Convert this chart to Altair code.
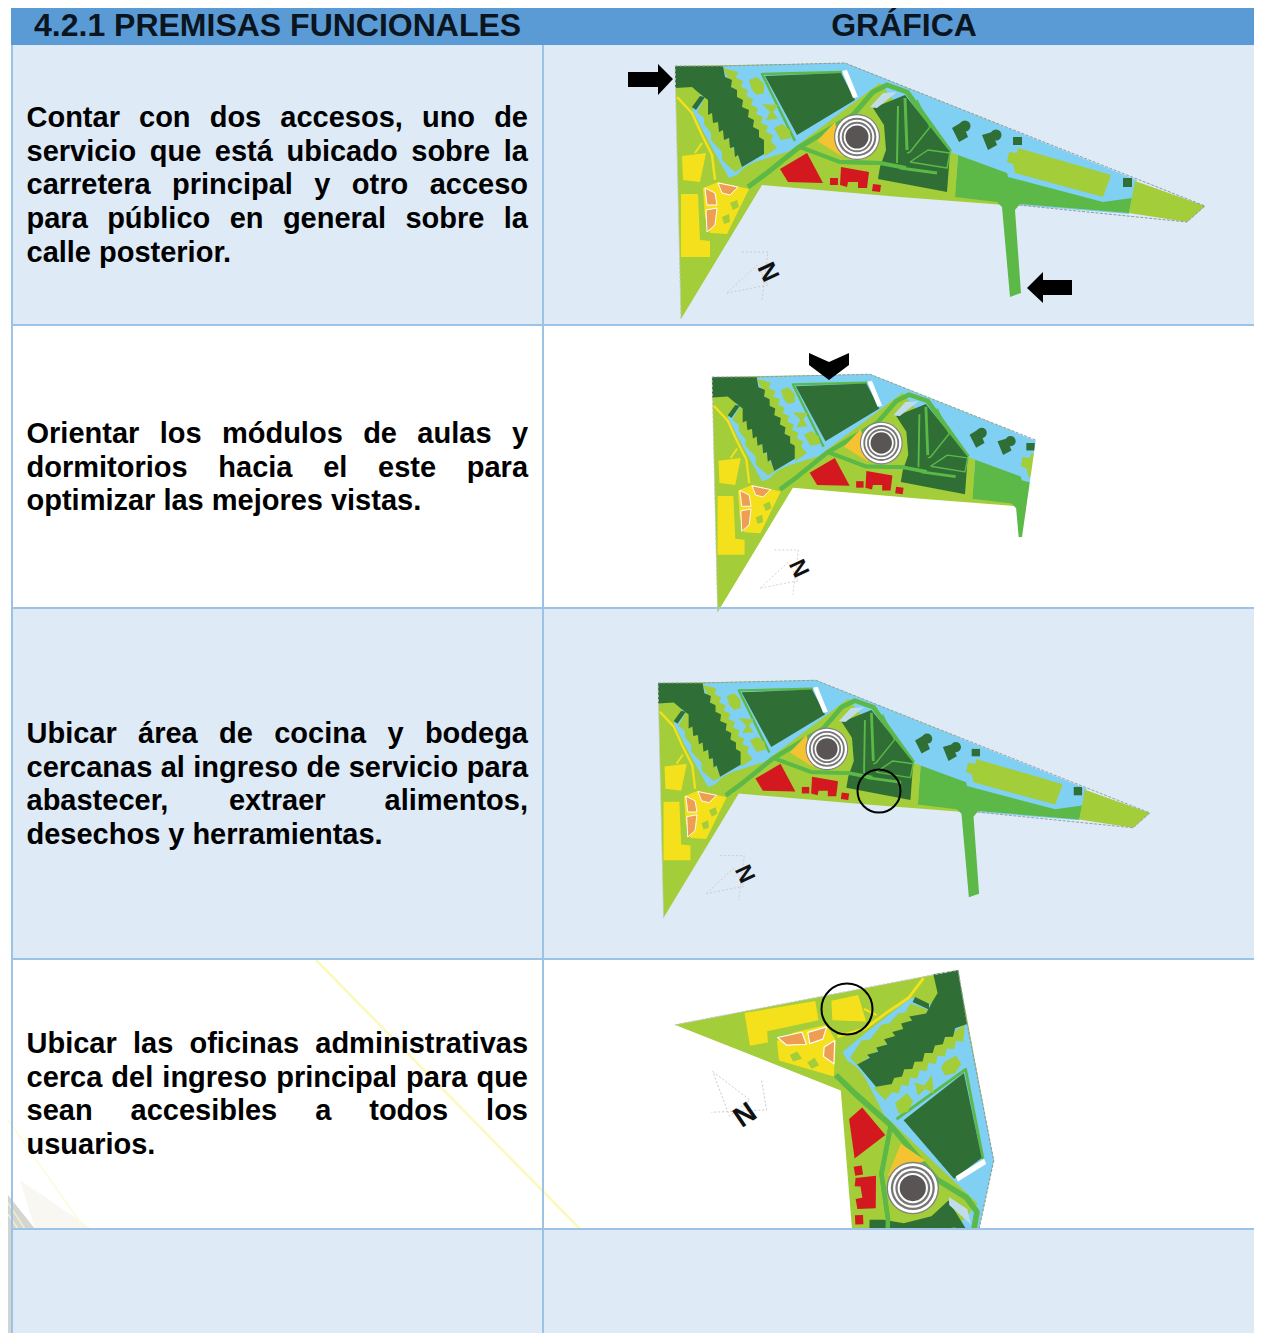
import math
import altair as alt

# ---------- table ----------
PANELS = [
    (11, 1262, 6, 45, "#5b9bd5"),
    (11, 1262, 45, 325, "#deeaf6"),
    (11, 1262, 325, 608, "#ffffff"),
    (11, 1262, 608, 959, "#deeaf6"),
    (11, 1262, 959, 1229, "#ffffff"),
]
LAST_PANEL = [(11, 1262, 1229, 1341, "#deeaf6")]
GRID = [
    (12, 12, 45, 1341), (543, 543, 45, 1341),
    (11, 1262, 325, 325), (11, 1262, 608, 608),
    (11, 1262, 959, 959), (11, 1262, 1229, 1229),
]
HEADER_LEFT = [("4.2.1 PREMISAS FUNCIONALES", 34, 36)]
HEADER_RIGHT = [("GRÁFICA", 904, 36)]
PARAGRAPHS = [
    (127, ["Contar con dos accesos, uno de", "servicio que está ubicado sobre la",
           "carretera principal y otro acceso", "para público en general sobre la",
           "calle posterior."]),
    (443, ["Orientar los módulos de aulas y", "dormitorios hacia el este para",
           "optimizar las mejores vistas."]),
    (743, ["Ubicar área de cocina y bodega", "cercanas al ingreso de servicio para",
           "abastecer, extraer alimentos,", "desechos y herramientas."]),
    (1053, ["Ubicar las oficinas administrativas", "cerca del ingreso principal para que",
            "sean accesibles a todos los", "usuarios."]),
]
LINE_STEP = 33.7
ADV = dict(a=556, b=611, c=556, d=611, e=556, f=333, g=611, h=611, i=278, j=278, k=556, l=278,
           m=889, n=611, o=611, p=611, q=611, r=389, s=556, t=333, u=611, v=556, w=778, x=556,
           y=556, z=500, C=722, O=778, U=722)
ADV.update({",": 278, ".": 278, "á": 556, "é": 556, "í": 278, "ó": 611, "ú": 611})

# ---------- site plan, in the coordinates of the first row ----------
LIME, BLUE, GREEN, DARK, YEL, RED = "#a3cd39", "#7fd0f2", "#5cb947", "#2f6f35", "#f4e11c", "#d3191f"
LIME_BASE = [(675, 66), (845, 63), (1000, 125), (1005, 205), (900, 197), (762, 185), (681, 319)]
WATER = [(723, 66), (845, 63), (1137, 180), (1129, 214), (1018, 205), (1000, 202), (940, 160), (880, 83),
         (795, 147), (790, 151), (755, 162), (745, 167), (737, 175), (729, 178), (716, 155), (704, 133),
         (692, 110), (700, 96)]
GREEN_EAST = [(958, 155), (1007, 173), (1008, 177), (1103, 202), (1132, 198), (1129, 213), (1020, 204),
              (1015, 210), (1021, 293), (1010, 297), (1002, 207), (997, 202), (955, 197)]
LIME_TIP = [(1135, 181), (1205, 206), (1187, 222), (1129, 213)]
LIME_HALL = [(1018, 148), (1111, 175), (1103, 197), (1015, 173), (1013, 164), (1007, 162), (1009, 152), (1017, 153)]
SQUARE_A = [(1013, 137), (1022, 137), (1022, 145), (1013, 145)]
SQUARE_B = [(1123, 178), (1132, 178), (1132, 187), (1123, 187)]
TREE_A = [(952, 128), (962, 122), (968, 137), (959, 142)]
TREE_B = [(982, 135), (992, 132), (997, 145), (988, 150)]
LIME_STRIP_W = [(706, 96), (697, 112), (704, 118), (704, 124), (711, 133), (711, 140), (722, 152), (722, 160),
                (735, 172), (743, 167)]
LIME_STRIP_E = [(723, 68), (738, 72), (736, 78), (743, 81), (741, 87), (748, 90), (746, 96), (753, 99), (751, 105),
                (758, 108), (756, 114), (763, 117), (761, 123), (768, 126), (766, 132), (773, 135), (771, 141),
                (777, 148), (765, 156)]
DARK_NW = [(675, 66), (723, 66), (725, 77), (732, 80), (731, 87), (737, 90), (737, 97), (743, 100), (742, 107),
           (749, 110), (748, 117), (754, 120), (753, 127), (759, 130), (759, 137), (764, 140), (764, 154),
           (742, 167), (738, 155), (735, 157), (734, 147), (730, 148), (729, 138), (724, 140), (723, 130),
           (719, 132), (718, 122), (713, 123), (712, 113), (708, 115), (708, 100), (699, 93), (692, 87), (675, 88)]
DARK_BAR = [(692, 107), (700, 96), (705, 97), (696, 110)]
DARK_N = [(765, 76), (841, 73), (855, 100), (797, 135)]
WHITE_STRIP = [(842, 71), (847, 70), (858, 97), (853, 98)]
POD_A = [(749, 80), (757, 77), (764, 84), (764, 93), (757, 95), (752, 90)]
POD_B = [(762, 104), (778, 105), (773, 112), (778, 119), (766, 120), (770, 112)]
POD_C = [(774, 128), (782, 124), (790, 130), (791, 138), (781, 140)]
AMBER = [(817, 141), (835, 122), (843, 157)]
RED_A = [(780, 169), (807, 153), (823, 183), (788, 182)]
RED_B = [(841, 167), (869, 172), (867, 188), (858, 188), (858, 182), (848, 182), (847, 187), (840, 185)]
RED_C = [(830, 178), (838, 178), (838, 185), (830, 185)]
RED_D = [(873, 184), (881, 185), (880, 192), (872, 191)]
YEL_A = [(682, 156), (706, 153), (700, 182), (683, 180)]
YEL_B = [(681, 194), (698, 194), (700, 240), (710, 241), (710, 257), (681, 257)]
YEL_C = [(703, 188), (718, 182), (749, 189), (727, 234), (710, 233), (705, 217)]
DARK_C = [(873, 108), (905, 95), (950, 152), (947, 192), (878, 179), (880, 167), (886, 150), (884, 125)]
LIME_SIDE = [(950, 152), (958, 155), (955, 197), (947, 192)]
POND = [(870, 107), (883, 93), (897, 92), (877, 108)]
ORANGE_A = [(705, 188), (715, 193), (717, 205), (707, 205)]
ORANGE_B = [(718, 183), (738, 187), (730, 195), (722, 193)]
ORANGE_C = [(706, 210), (717, 208), (715, 225), (707, 232)]
PAD_A = [(730, 203), (737, 200), (739, 207), (733, 210)]
PAD_B = [(722, 217), (729, 214), (730, 222), (724, 224)]

UNDER = [(LIME_BASE, LIME), (WATER, BLUE), (GREEN_EAST, GREEN), (LIME_TIP, LIME), (LIME_HALL, LIME),
         (LIME_SIDE, LIME)]
OVER = [(LIME_STRIP_W, LIME), (LIME_STRIP_E, LIME), (DARK_NW, DARK), (DARK_BAR, DARK), (DARK_N, DARK),
        (WHITE_STRIP, "#ffffff"), (POD_A, LIME), (POD_B, LIME), (POD_C, LIME), (AMBER, "#f3c331"),
        (RED_A, RED), (RED_B, RED), (RED_C, RED), (RED_D, RED), (YEL_A, YEL), (YEL_B, YEL), (YEL_C, YEL),
        (DARK_C, DARK), (POND, "#c0dcea"), (SQUARE_A, DARK), (SQUARE_B, DARK), (TREE_A, DARK), (TREE_B, DARK)]
ROADS_LOW = [
    ([(748, 187), (767, 173), (798, 148), (853, 115), (873, 92), (887, 85), (907, 92), (950, 152)], GREEN, 5),
    ([(795, 141), (762, 74), (842, 72)], GREEN, 2.5),
    ([(800, 147), (840, 162), (880, 163), (920, 172)], GREEN, 4),
    ([(677, 97), (692, 113), (701, 133), (712, 155), (715, 180)], YEL, 2.5),
    ([(695, 153), (702, 143)], YEL, 2),
]
ROADS_TOP = [
    ([(917, 100), (930, 127), (910, 152), (907, 153)], GREEN, 1.5),
    ([(910, 162), (928, 150), (950, 153), (947, 168), (910, 162)], GREEN, 1.5),
    ([(900, 168), (937, 173)], GREEN, 3),
    ([(898, 106), (897, 163)], GREEN, 2),
    ([(905, 98), (907, 150)], GREEN, 3),
    ([(800, 147), (840, 162), (880, 163), (906, 168)], GREEN, 4),
]
ORANGES = [(ORANGE_A, "#ee9e54"), (ORANGE_B, "#ee9e54"), (ORANGE_C, "#ee9e54"), (PAD_A, LIME), (PAD_B, LIME)]
OUTLINE = [(675, 66), (723, 66), (845, 63), (1205, 206), (1187, 222), (1018, 205)]
OUTLINE_WEST = [(681, 319), (675, 66)]
NORTH_A = [(727, 293), (757, 265), (768, 285), (727, 293)]
NORTH_B = [(742, 252), (768, 252), (762, 300)]
NORTH_LABEL = (768, 272)
RINGS = [(857, 137, 23, "#808080"), (857, 137, 21.8, "#ffffff"), (857, 137, 19.3, "#777777"),
         (857, 137, 17.3, "#ffffff"), (857, 137, 15.3, "#777777"), (857, 137, 13.3, "#ffffff"),
         (857, 137, 11.5, "#5a5555"), (965, 126, 5.5, DARK), (996, 135, 5.5, DARK)]

# origin x, origin y, scale, rotation of each copy of the plan
COPIES = [(675, 66, 1.0, 0.0), (712, 377, 0.93, 0.0), (658, 683, 0.928, 0.0), (958, 970, 1.14, 80.4)]

# ---------- overlays ----------
ARROW_E = [(628, 72), (658, 72), (658, 64), (673, 79), (658, 95), (658, 87), (628, 87)]
ARROW_W = [(1072, 280), (1043, 280), (1043, 272), (1027, 288), (1043, 303), (1043, 295), (1072, 295)]
CHEVRON = [(809, 353), (829, 362), (849, 353), (849, 365), (829, 380), (809, 365)]
ROW2_CUT = [(1038, 425), (1022, 537), (1000, 538), (1000, 605), (1262, 605), (1262, 330), (1038, 330)]
HOOPS = [(879, 791, 21.5), (847, 1009, 25.5)]
PALE_LINES = [([(316, 960), (580, 1229)], "#fbf9bb", 2.5), ([(8, 1120), (85, 1229)], "#fbfbdc", 1.5)]
HATCH_LINES = [([(8, 1203), (25, 1229)], "#efeecb", 1.5), ([(8, 1214), (18, 1229)], "#efeecb", 1.5)]
HAZE = [(20, 1180), (92, 1229), (35, 1229)]
HATCH = [(8, 1195), (35, 1229), (11, 1229), (11, 1341), (8, 1341)]


def place(p, c):
    ox, oy, s, rot = c
    a = math.radians(rot)
    dx, dy = p[0] - 675, p[1] - 66
    return [ox + s * (dx * math.cos(a) - dy * math.sin(a)), oy + s * (dx * math.sin(a) + dy * math.cos(a))]


def poly(points, fill, c=None):
    pts = [place(p, c) if c else list(p) for p in points]
    return {"type": "Feature", "geometry": {"type": "Polygon", "coordinates": [pts + [pts[0]]]},
            "properties": {"fill": fill}}


def line(points, colour, w, c=None):
    pts = [place(p, c) if c else list(p) for p in points]
    return {"type": "Feature", "geometry": {"type": "LineString", "coordinates": pts},
            "properties": {"stroke": colour, "w": w * (c[2] if c else 1)}}


def polys(feats, **kw):
    return alt.Chart(alt.Data(values=feats)).mark_geoshape(strokeWidth=0, **kw).encode(
        fill=alt.Fill("properties.fill:N", scale=None))


def lines(feats, **kw):
    return alt.Chart(alt.Data(values=feats)).mark_geoshape(filled=False, strokeJoin="round", **kw).encode(
        stroke=alt.Stroke("properties.stroke:N", scale=None),
        strokeWidth=alt.StrokeWidth("properties.w:Q", scale=None))


X = alt.X("x:Q", scale=alt.Scale(domain=[8, 1254], nice=False, zero=False), axis=None)
Y = alt.Y("y:Q", scale=alt.Scale(domain=[8, 1333], nice=False, zero=False, reverse=True), axis=None)


def rects(rows):
    vals = [dict(x=a, x2=b, y=c, y2=d, f=e) for a, b, c, d, e in rows]
    return alt.Chart(alt.Data(values=vals)).mark_rect(strokeWidth=0).encode(
        x=X, x2="x2:Q", y=Y, y2="y2:Q", fill=alt.Fill("f:N", scale=None))


def header(rows, align):
    vals = [dict(t=t, x=x, y=y) for t, x, y in rows]
    return alt.Chart(alt.Data(values=vals)).mark_text(font="Liberation Sans", fontWeight="bold", fontSize=32,
                                                      color="#0a1520", baseline="alphabetic", align=align).encode(
        x=X, y=Y, text="t:N")


# paragraph words, justified between the two cell edges
words = []
for top, rows in PARAGRAPHS:
    for i, text in enumerate(rows):
        parts = text.split(" ")
        w = [sum(ADV.get(ch, 556) for ch in t) * 29 / 1000 for t in parts]
        justified = i < len(rows) - 1
        gap = (528 - 26.5 - sum(w)) / (len(parts) - 1) if justified else 8
        x = 26.5
        for t, wi in zip(parts, w):
            words.append(dict(t=t, x=x, y=top + i * LINE_STEP))
            x += wi + gap

under = [poly(p, f, c) for c in COPIES for p, f in UNDER]
low = [line(p, k, w, c) for c in COPIES for p, k, w in ROADS_LOW]
over = [poly(p, f, c) for c in COPIES for p, f in OVER]
top_lines = [line(p, k, w, c) for c in COPIES for p, k, w in ROADS_TOP]
oranges = [poly(p, f, c) for c in COPIES for p, f in ORANGES]
orange_edges = [line(p + [p[0]], "#ffffff", 1, c) for c in COPIES for p, f in ORANGES[:3]]
dashed = [line(OUTLINE, "#8f9aa0", 1, c) for c in COPIES] + [line(OUTLINE_WEST, "#c4c8c8", 1, c) for c in COPIES]
north = [line(p, "#c9c3bc", 0.8, c) for c in COPIES for p in (NORTH_A, NORTH_B)]
circles = [dict(x=place((a, b), c)[0], y=place((a, b), c)[1], s=(2 * r * c[2]) ** 2, f=k)
           for c in COPIES for a, b, r, k in RINGS]
north_txt = [dict(x=place(NORTH_LABEL, c)[0], y=place(NORTH_LABEL, c)[1], a=65 + c[3], s=25 * c[2]) for c in COPIES]
hoops = [dict(x=a, y=b, s=(2 * r) ** 2) for a, b, r in HOOPS]
grid = [dict(x=a, x2=b, y=c, y2=d) for a, b, c, d in GRID]

layers = [
    rects(PANELS),
    polys([poly(HAZE, "#f8f7f2")]),
    lines([line(p, k, w) for p, k, w in PALE_LINES]),
    polys([poly(HATCH, "#d4d4d0")]),
    lines([line(p, k, w) for p, k, w in HATCH_LINES]),
    polys(under), lines(low), polys(over), lines(top_lines),
    alt.Chart(alt.Data(values=circles)).mark_circle(opacity=1, strokeWidth=0).encode(
        x=X, y=Y, size=alt.Size("s:Q", scale=None), fill=alt.Fill("f:N", scale=None)),
    polys(oranges),
    lines(orange_edges),
    lines(dashed, strokeDash=[3, 1.5]),
    lines(north, strokeDash=[2, 2]),
    alt.Chart(alt.Data(values=north_txt)).mark_text(font="Liberation Sans", fontWeight="bold", color="#111111",
                                                    baseline="middle", align="center").encode(
        x=X, y=Y, text=alt.value("N"), angle=alt.Angle("a:Q", scale=None), size=alt.Size("s:Q", scale=None)),
    polys([poly(ROW2_CUT, "#ffffff")]),
    rects(LAST_PANEL),
    alt.Chart(alt.Data(values=grid)).mark_rule(color="#9cc2e5", strokeWidth=2).encode(
        x=X, x2="x2:Q", y=Y, y2="y2:Q"),
    polys([poly(p, "#000000") for p in (ARROW_E, ARROW_W, CHEVRON)]),
    alt.Chart(alt.Data(values=hoops)).mark_point(shape="circle", filled=False, color="#000000", strokeWidth=2,
                                                 opacity=1).encode(x=X, y=Y, size=alt.Size("s:Q", scale=None)),
    header(HEADER_LEFT, "left"),
    header(HEADER_RIGHT, "center"),
    alt.Chart(alt.Data(values=words)).mark_text(font="Liberation Sans", fontWeight="bold", fontSize=29,
                                                color="#000000", baseline="alphabetic", align="left").encode(
        x=X, y=Y, text="t:N"),
]

chart = alt.layer(*layers).project(type="identity", scale=1, translate=[-8, -8]).properties(
    width=1246, height=1325, padding=0, autosize=alt.AutoSizeParams(type="none")
).configure_view(stroke=None)
chart.save("out.html", embed_options={"renderer": "svg", "actions": False})
